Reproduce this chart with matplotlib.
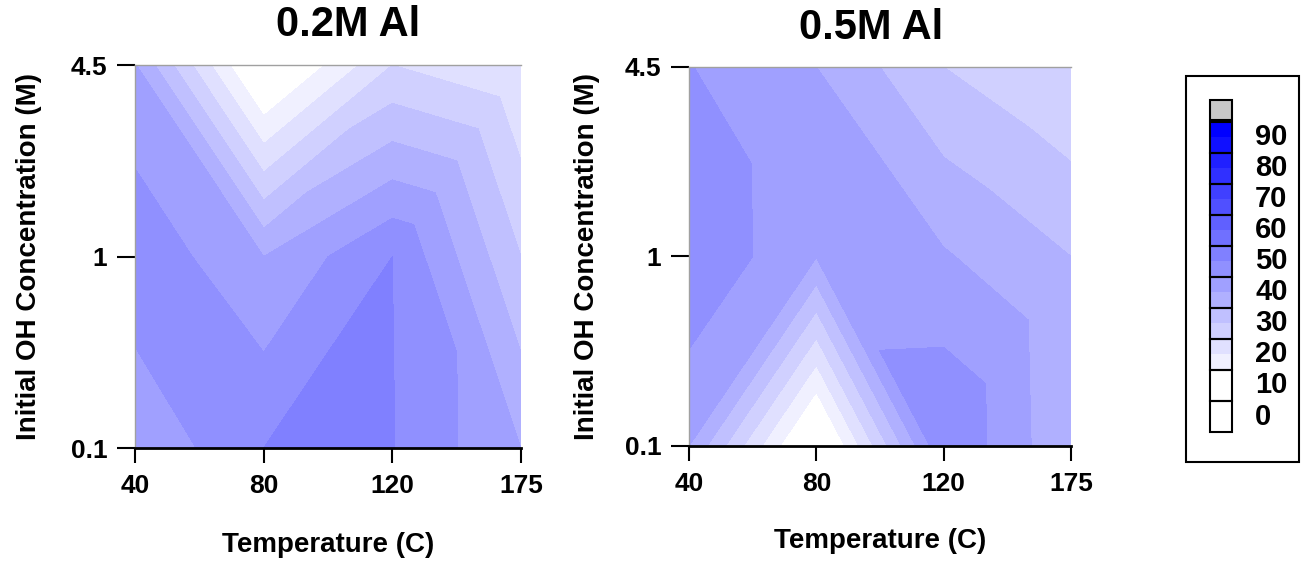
import numpy as np
import matplotlib.pyplot as plt
import matplotlib.tri as mtri
from matplotlib.patches import Rectangle

plt.rcParams['font.family'] = ['Liberation Sans', 'DejaVu Sans']
plt.rcParams['font.weight'] = 'bold'

# grid axes (categorical)
temps = ["40", "80", "120", "175"]
oh_conc = ["0.1", "1", "4.5"]

# values per grid node, rows from 0.1 M (bottom) up to 4.5 M (top)
al_02 = [[45.5, 55.0, 55.2, 45.0],
         [54.0, 45.0, 55.0, 35.0],
         [45.3, 11.0, 30.0, 25.0]]
al_05 = [[45.0, 10.0, 54.9, 40.5],
         [54.8, 45.2, 45.5, 40.0],
         [50.2, 45.0, 35.0, 30.0]]

levels = np.arange(0, 105, 5)
key_labels = list(range(0, 100, 10))

# white -> blue in steps of 0x10, lowest bands clipped to white
shade = np.clip(16 * (19 - np.arange(len(levels) - 1)), 0, 255) / 255
colors = [(s, s, 1.0) for s in shade]


def grid_triangulation(z):
    # split each cell along the diagonal with the higher mean
    ny, nx = z.shape
    xx, yy = np.meshgrid(np.arange(nx), np.arange(ny))
    zf = z.ravel()
    tris = []
    for j in range(ny - 1):
        for i in range(nx - 1):
            p00 = j * nx + i
            p10 = p00 + 1
            p01 = p00 + nx
            p11 = p01 + 1
            if zf[p00] + zf[p11] >= zf[p10] + zf[p01]:
                tris += [[p00, p10, p11], [p00, p11, p01]]
            else:
                tris += [[p00, p10, p01], [p10, p11, p01]]
    return mtri.Triangulation(xx.ravel(), yy.ravel(), tris)


def panel(ax, z, title, title_x, ylab_x, xlab_y):
    z = np.asarray(z, dtype=float)
    tri = grid_triangulation(z)
    ax.tricontourf(tri, z.ravel(), levels=levels, colors=colors)
    ax.set_xlim(0, len(temps) - 1)
    ax.set_ylim(0, len(oh_conc) - 1)
    ax.set_xticks(range(len(temps)), temps)
    ax.set_yticks(range(len(oh_conc)), oh_conc)
    ax.tick_params(axis='x', length=11, width=1.5, pad=8, labelsize=19)
    ax.tick_params(axis='y', length=13, width=1.5, pad=7, labelsize=19)
    ax.spines['bottom'].set_linewidth(2)
    ax.spines['bottom'].set_color('black')
    ax.spines['right'].set_visible(False)
    for s in ('top', 'left'):
        ax.spines[s].set_color('#a0a0a0')
        ax.spines[s].set_linewidth(1)
    ax.set_xlabel("Temperature (C)", fontsize=20, fontweight='bold')
    ax.xaxis.set_label_coords(0.5, xlab_y)
    ax.set_ylabel("Initial OH Concentration (M)", fontsize=20, fontweight='bold')
    ax.yaxis.set_label_coords(ylab_x, 0.5)
    ax.text(title_x, 1.075, title, transform=ax.transAxes, ha='center',
            va='baseline', fontsize=30, fontweight='bold')


fig = plt.figure(figsize=(13.01, 5.61), dpi=100)
ax1 = fig.add_axes([0.1038, 0.2014, 0.2967, 0.6827])
ax2 = fig.add_axes([0.5296, 0.2050, 0.2936, 0.6756])
panel(ax1, al_02, "0.2M Al", 0.552, -0.241, -0.219)
panel(ax2, al_05, "0.5M Al", 0.476, -0.233, -0.216)

# colour key
fig.patches.append(Rectangle((0.9116, 0.1765), 0.0869, 0.688, transform=fig.transFigure,
                             fill=False, ec='black', lw=1.5))
cax = fig.add_axes([0.9301, 0.2299, 0.0169, 0.5918])
cax.bar(0.5, np.diff(levels), bottom=levels[:-1], width=1, color=colors)
for b in key_labels:
    cax.add_patch(Rectangle((0, b), 1, 10, fill=False, ec='black', lw=1.5, clip_on=False))
    cax.text(2.05, b + 5, str(b), ha='left', va='center', fontsize=21, fontweight='bold')
cax.add_patch(Rectangle((0, 100.7), 1, 6.3, fc='#c8c8c8', ec='black', lw=1.5, clip_on=False))
cax.set_xlim(0, 1)
cax.set_ylim(0, 107)
cax.axis('off')

fig.savefig("out.png", dpi=100)
